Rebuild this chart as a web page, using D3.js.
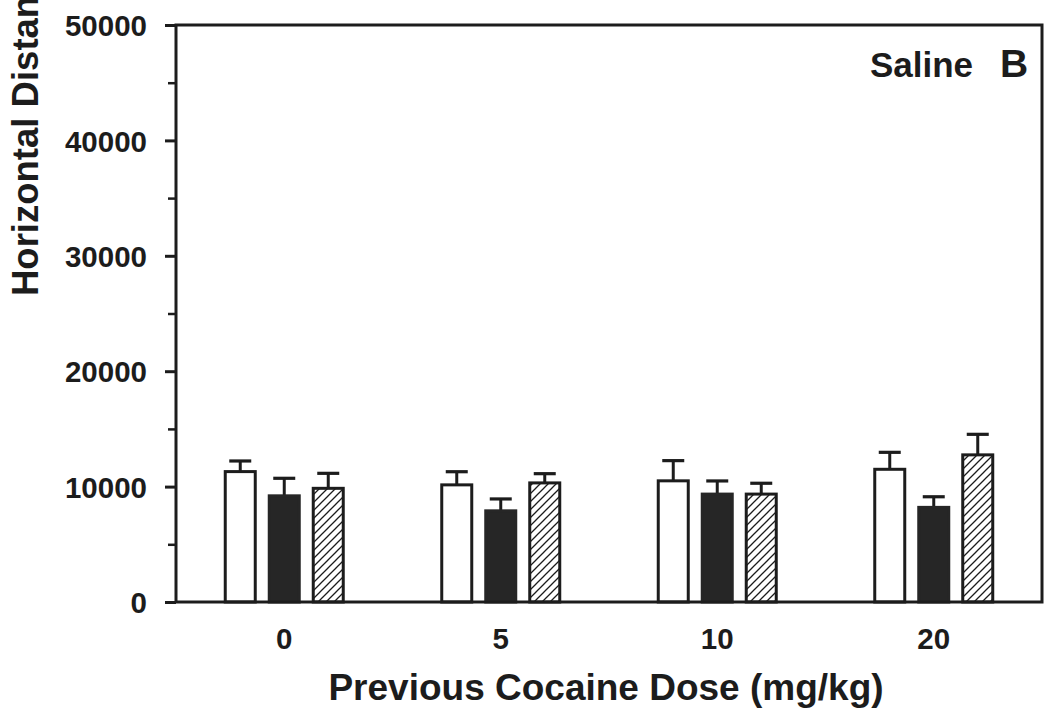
<!DOCTYPE html>
<html>
<head>
<meta charset="utf-8">
<script src="https://cdn.jsdelivr.net/npm/d3@7"></script>
<style>
  html, body { margin: 0; padding: 0; background: #fff; }
  svg { display: block; }
  text { font-family: "Liberation Sans", Arial, Helvetica, sans-serif; font-weight: bold; fill: #1c1c1c; }
</style>
</head>
<body>
<svg id="chart" width="1045" height="719"></svg>
<script>
// Previous cocaine dose groups (mg/kg)
const doses = ["0", "5", "10", "20"];
// Three bar series per dose group: open, filled, hatched
const seriesNames = ["open", "filled", "hatched"];
// Mean horizontal distance per series, ordered as doses
const openMeans    = [11300, 10150, 10500, 11500];
const filledMeans  = [9200, 7900, 9350, 8200];
const hatchedMeans = [9850, 10320, 9350, 12750];
// Upward error (SEM) per series
const openErr    = [920, 1140, 1750, 1470];
const filledErr  = [1520, 1030, 1140, 920];
const hatchedErr = [1300, 800, 940, 1780];
// Y axis ticks
const yTicks = [0, 10000, 20000, 30000, 40000, 50000];
const yMinorTicks = [5000, 15000, 25000, 35000, 45000];

const ink = "#1c1c1c";
const svg = d3.select("#chart");

const plotLeft = 176, plotRight = 1042, plotTop = 25, plotBottom = 602;

const x = d3.scaleBand().domain(doses).range([plotLeft, plotRight]).padding(0);
const xs = d3.scaleBand().domain(seriesNames).range([-59, 59]).paddingInner(0.318).paddingOuter(0);
const y = d3.scaleLinear().domain([0, 50000]).range([plotBottom, plotTop]);

// Diagonal hatch pattern
const defs = svg.append("defs");
const pat = defs.append("pattern")
  .attr("id", "hatch")
  .attr("patternUnits", "userSpaceOnUse")
  .attr("width", 8).attr("height", 8);
pat.append("rect").attr("width", 8).attr("height", 8).attr("fill", "#fff");
pat.append("path")
  .attr("d", "M-2,2 L2,-2 M0,8 L8,0 M6,10 L10,6")
  .attr("stroke", ink).attr("stroke-width", 1.3);

const fills = { open: "#fff", filled: "#262626", hatched: "url(#hatch)" };

const rows = [];
doses.forEach((d, i) => {
  rows.push({ dose: d, series: "open", mean: openMeans[i], err: openErr[i] });
  rows.push({ dose: d, series: "filled", mean: filledMeans[i], err: filledErr[i] });
  rows.push({ dose: d, series: "hatched", mean: hatchedMeans[i], err: hatchedErr[i] });
});

const cx = r => x(r.dose) + x.bandwidth() / 2 + xs(r.series);

// Error bars (upward only)
const eb = svg.append("g").attr("class", "errors");
eb.selectAll("line.stem").data(rows).join("line")
  .attr("class", "stem")
  .attr("x1", r => cx(r) + xs.bandwidth() / 2)
  .attr("x2", r => cx(r) + xs.bandwidth() / 2)
  .attr("y1", r => y(r.mean))
  .attr("y2", r => y(r.mean + r.err))
  .attr("stroke", ink).attr("stroke-width", 3);
eb.selectAll("line.cap").data(rows).join("line")
  .attr("class", "cap")
  .attr("x1", r => cx(r) + xs.bandwidth() / 2 - 11)
  .attr("x2", r => cx(r) + xs.bandwidth() / 2 + 11)
  .attr("y1", r => y(r.mean + r.err))
  .attr("y2", r => y(r.mean + r.err))
  .attr("stroke", ink).attr("stroke-width", 3.2);

// Bars
svg.append("g").attr("class", "bars")
  .selectAll("rect").data(rows).join("rect")
  .attr("x", r => cx(r))
  .attr("width", xs.bandwidth())
  .attr("y", r => y(r.mean))
  .attr("height", r => y(0) - y(r.mean))
  .attr("fill", r => fills[r.series])
  .attr("stroke", r => r.series === "filled" ? "#262626" : ink)
  .attr("stroke-width", 3);

// Frame
svg.append("rect")
  .attr("x", plotLeft).attr("y", plotTop)
  .attr("width", plotRight - plotLeft).attr("height", plotBottom - plotTop)
  .attr("fill", "none").attr("stroke", ink).attr("stroke-width", 3);

// Y axis
const yAxis = svg.append("g")
  .attr("transform", `translate(${plotLeft},0)`)
  .call(d3.axisLeft(y).tickValues(yTicks).tickSize(11).tickPadding(18).tickFormat(d3.format("d")));
yAxis.select(".domain").remove();
yAxis.selectAll(".tick line").attr("stroke", ink).attr("stroke-width", 3);
yAxis.selectAll(".tick text")
  .style("font-size", "29.5px").attr("dy", "0.36em").attr("fill", ink);

const yMinor = svg.append("g")
  .attr("transform", `translate(${plotLeft},0)`)
  .call(d3.axisLeft(y).tickValues(yMinorTicks).tickSize(8).tickFormat(""));
yMinor.select(".domain").remove();
yMinor.selectAll(".tick line").attr("stroke", ink).attr("stroke-width", 2.5);

// X axis labels
const xAxis = svg.append("g")
  .attr("transform", `translate(0,${plotBottom})`)
  .call(d3.axisBottom(x).tickSize(0).tickPadding(26));
xAxis.select(".domain").remove();
xAxis.selectAll(".tick text").style("font-size", "29.5px").attr("fill", ink);

// Axis titles
svg.append("text")
  .attr("x", 606).attr("y", 700)
  .attr("text-anchor", "middle")
  .style("font-size", "37px")
  .text("Previous Cocaine Dose (mg/kg)");

svg.append("text")
  .attr("transform", "translate(38,296) rotate(-90)")
  .attr("text-anchor", "start")
  .style("font-size", "36.5px")
  .text("Horizontal Distance (cm)");

// Panel label
svg.append("text")
  .attr("x", 973).attr("y", 77)
  .attr("text-anchor", "end")
  .style("font-size", "35px")
  .text("Saline");
svg.append("text")
  .attr("x", 1000).attr("y", 77)
  .style("font-size", "39px")
  .text("B");
</script>
</body>
</html>
